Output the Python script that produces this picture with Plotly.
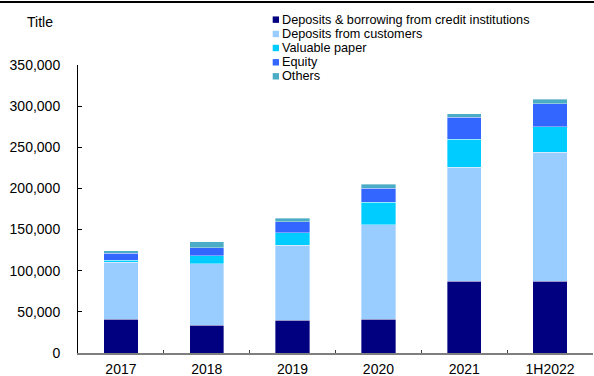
import plotly.graph_objects as go

# Funding structure by period (VND bn)
categories = ["2017", "2018", "2019", "2020", "2021", "1H2022"]
series_names = [
    "Deposits & borrowing from credit institutions",
    "Deposits from customers",
    "Valuable paper",
    "Equity",
    "Others",
]
credit_inst = [41000, 33500, 40000, 41000, 87000, 87000]
customers = [69000, 75000, 91000, 115000, 139000, 157000]
valuable_paper = [3000, 9500, 15000, 27000, 34000, 31000]
equity = [8000, 10000, 13500, 17000, 26600, 28000]
others = [3000, 7500, 4500, 5000, 4400, 5500]
y_ticks = [0, 50000, 100000, 150000, 200000, 250000, 300000, 350000]

series_values = [credit_inst, customers, valuable_paper, equity, others]
colors = ["#000080", "#99CCFF", "#00CCFF", "#3366FF", "#4BACC6"]

W, H = 594, 376
L, R, T, B = 78, 1, 65, 23.3
FONT = "Liberation Sans, Arial, sans-serif"


def px_x(p):
    return (p - L) / (W - L - R)


def px_y(p):
    return (H - B - p) / (H - T - B)


fig = go.Figure()
for name, vals, col in zip(series_names, series_values, colors):
    fig.add_trace(go.Bar(
        x=categories, y=vals, name=name,
        marker=dict(color=col, line=dict(color="rgba(255,255,255,0.6)", width=0.6)),
        showlegend=False,
    ))

# Hand-placed compact legend
row_y = [19.7, 34, 48, 62.3, 76.3]
shapes = []
annotations = []
for name, col, ry in zip(series_names, colors, row_y):
    shapes.append(dict(type="rect", xref="paper", yref="paper",
                       x0=px_x(272.7), x1=px_x(279), y0=px_y(ry + 3.2), y1=px_y(ry - 3.2),
                       fillcolor=col, line=dict(width=0)))
    annotations.append(dict(text=name, xref="paper", yref="paper",
                            x=px_x(280), y=px_y(ry), xanchor="left", yanchor="middle",
                            showarrow=False, font=dict(family=FONT, size=12.7, color="#000000")))

annotations.append(dict(text="Title", xref="paper", yref="paper",
                        x=px_x(24.5), y=px_y(21.7), xanchor="left", yanchor="middle",
                        showarrow=False, font=dict(family=FONT, size=14, color="#000000")))

# Heavy rule along the top edge
shapes.append(dict(type="line", xref="paper", yref="paper",
                   x0=px_x(0), x1=px_x(W), y0=px_y(2), y1=px_y(2),
                   line=dict(color="#000000", width=2)))

fig.update_layout(
    barmode="stack",
    bargap=0.6,
    width=W, height=H,
    margin=dict(l=L, r=R, t=T, b=B, pad=0),
    paper_bgcolor="white", plot_bgcolor="white",
    font=dict(family=FONT, size=14, color="#000000"),
    shapes=shapes,
    annotations=annotations,
    xaxis=dict(
        showline=True, linecolor="#7F7F7F", linewidth=1.5,
        ticks="inside", tickson="boundaries", ticklen=3, tickcolor="#404040", tickwidth=1,
        showgrid=False, tickfont=dict(size=14), ticklabelstandoff=2,
        automargin=False,
    ),
    yaxis=dict(
        range=[0, 350000], tickvals=y_ticks, tickformat=",d",
        showline=True, linecolor="#000000", linewidth=1,
        ticks="inside", ticklen=4, tickcolor="#000000",
        showgrid=False, zeroline=False, tickfont=dict(size=14),
        ticklabelstandoff=14, automargin=False,
    ),
)

fig.write_html("out.html")
